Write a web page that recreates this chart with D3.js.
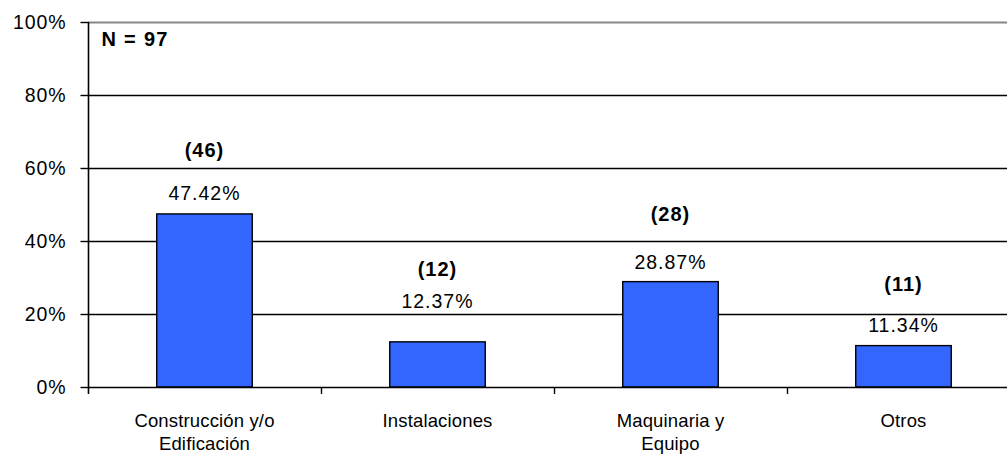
<!DOCTYPE html>
<html>
<head>
<meta charset="utf-8">
<script src="https://cdn.jsdelivr.net/npm/d3@7"></script>
<style>
  html, body { margin: 0; padding: 0; background: #fff; }
  text { font-family: "Liberation Sans", Arial, sans-serif; fill: #000; }
</style>
</head>
<body>
<script>
// ---- data ----
const categories = [["Construcción y/o", "Edificación"], ["Instalaciones"], ["Maquinaria y", "Equipo"], ["Otros"]];
const percents = [47.42, 12.37, 28.87, 11.34];
const counts = [46, 12, 28, 11];
const yTicks = [0, 20, 40, 60, 80, 100];
const totalN = 97;

// ---- layout (label offsets above bar top, px) ----
const pctOffset = [14, 34, 13, 14];
const cntOffset = [57, 66, 61, 55];

const W = 1007, H = 454;
const svg = d3.select("body").append("svg").attr("width", W).attr("height", H);

const x0 = 88, x1 = 1020, yTop = 22, yBot = 387;
const x = d3.scaleBand().domain(d3.range(categories.length)).range([x0, x1]).paddingInner(0.59).paddingOuter(0.295);
const xb = d3.scaleBand().domain(d3.range(categories.length)).range([x0, x1]);
const y = d3.scaleLinear().domain([0, 100]).range([yBot, yTop]);

// gridlines
svg.append("g").selectAll("line").data(yTicks.filter(t => t > 0)).join("line")
  .attr("x1", x0).attr("x2", W)
  .attr("y1", d => Math.round(y(d)) + 0.5).attr("y2", d => Math.round(y(d)) + 0.5)
  .attr("stroke", d => d === 100 ? "#888" : "#000")
  .attr("stroke-width", d => d === 100 ? 2 : 1.4);

// bars
svg.append("g").selectAll("rect").data(percents).join("rect")
  .attr("x", (d, i) => x(i)).attr("width", x.bandwidth())
  .attr("y", d => y(d)).attr("height", d => y(0) - y(d))
  .attr("fill", "#3366FF").attr("stroke", "#000").attr("stroke-width", 1.4);

// y axis
const yAxis = d3.axisLeft(y).tickValues(yTicks).tickSize(8).tickPadding(14).tickFormat(d => d + "%");
const gy = svg.append("g").attr("transform", `translate(${x0 + 0.5},0)`).call(yAxis);
gy.select(".domain").remove();
gy.selectAll(".tick line").attr("stroke", "#000").attr("stroke-width", 1.4);
gy.selectAll(".tick text").attr("font-size", 19.5).attr("letter-spacing", 0.9)
  .attr("font-family", "Liberation Sans, Arial, sans-serif").attr("fill", "#000");
svg.append("line").attr("x1", x0 + 0.5).attr("x2", x0 + 0.5).attr("y1", yTop).attr("y2", yBot + 7)
  .attr("stroke", "#000").attr("stroke-width", 1.6);

// x axis
svg.append("line").attr("x1", x0).attr("x2", W).attr("y1", yBot + 0.5).attr("y2", yBot + 0.5)
  .attr("stroke", "#000").attr("stroke-width", 1.6);
svg.append("g").selectAll("line").data(d3.range(1, categories.length)).join("line")
  .attr("x1", i => Math.round(xb(i)) + 0.5).attr("x2", i => Math.round(xb(i)) + 0.5)
  .attr("y1", yBot).attr("y2", yBot + 7).attr("stroke", "#000").attr("stroke-width", 1.4);

// category labels
const cat = svg.append("g").selectAll("text").data(categories).join("text")
  .attr("x", (d, i) => xb(i) + xb.bandwidth() / 2).attr("y", 426.5)
  .attr("text-anchor", "middle").attr("font-size", 18.5).attr("letter-spacing", 0.15);
cat.selectAll("tspan").data(d => d).join("tspan")
  .attr("x", function () { return d3.select(this.parentNode).attr("x"); })
  .attr("dy", (d, j) => j === 0 ? 0 : 23).text(d => d);

// value labels
svg.append("g").selectAll("text").data(percents).join("text")
  .attr("x", (d, i) => x(i) + x.bandwidth() / 2).attr("y", (d, i) => y(d) - pctOffset[i])
  .attr("text-anchor", "middle").attr("font-size", 19.5).attr("letter-spacing", 1)
  .text(d => d.toFixed(2) + "%");

svg.append("g").selectAll("text").data(counts).join("text")
  .attr("x", (d, i) => x(i) + x.bandwidth() / 2).attr("y", (d, i) => y(percents[i]) - cntOffset[i])
  .attr("text-anchor", "middle").attr("font-size", 20).attr("font-weight", "bold").attr("letter-spacing", 1)
  .text(d => "(" + d + ")");

svg.append("text").attr("x", 101.5).attr("y", 45.5).attr("font-size", 20).attr("font-weight", "bold")
  .attr("letter-spacing", 1.3).text("N = " + totalN);
</script>
</body>
</html>
